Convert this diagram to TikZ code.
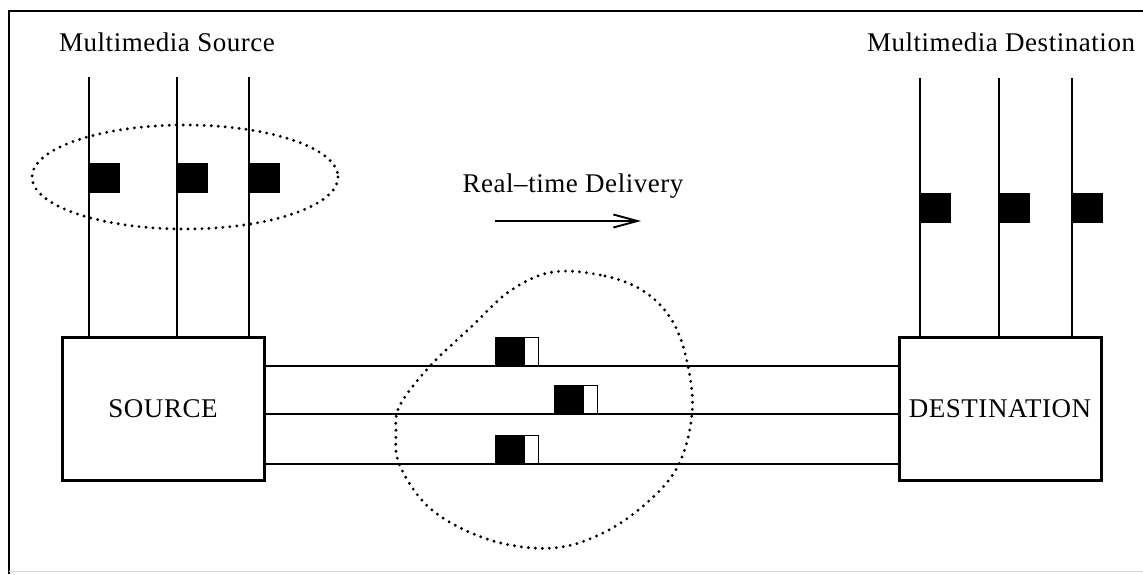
\documentclass[tikz,border=0pt]{standalone}
\usepackage{fontspec}
\setmainfont{Liberation Serif}[LetterSpace=2]
\usetikzlibrary{arrows.meta}
\begin{document}
\begin{tikzpicture}[x=1pt,y=-1pt,
  wire/.style={line width=1.9pt},
  blockbox/.style={draw,line width=3pt,minimum width=202pt,minimum height=143pt,inner sep=0pt,font=\fontsize{27}{30}\selectfont},
  lbl/.style={font=\fontsize{27}{30}\selectfont,inner sep=0pt},
  blk/.style={fill=black,draw=none,minimum width=31pt,minimum height=30pt,inner sep=0pt},
  pkt/.style={draw,line width=1.4pt,fill=white,minimum width=43pt,minimum height=28pt,inner sep=0pt,
    path picture={\fill[black] (path picture bounding box.north west) rectangle ([xshift=-14pt]path picture bounding box.south east);}},
  dots/.style={line width=3.2pt,line cap=round,dash pattern=on 0pt off 7pt}
]
\useasboundingbox (0,0) rectangle (1143,574);
\fill[white] (0,0) rectangle (1143,574);
% frame
\draw[line width=1.9pt] (9,574) -- (9,11) -- (1143,11);
\draw[line width=0.6pt,black!15] (9,571) -- (1143,571);

% boxes
\node[blockbox] (src) at (163,408.5) {SOURCE};
\node[blockbox] (dst) at (1000,409) {DESTINATION};

% titles
\node[lbl] (tsrc) at (167,42) {Multimedia Source};
\node[lbl] (tdst) at (1001,42) {Multimedia Destination};

% source streams
\coordinate (s1) at (89,77);
\coordinate (s2) at (177,77);
\coordinate (s3) at (249,77);
\foreach \c in {s1,s2,s3} \draw[wire] (\c) -- (\c |- src.north);
\node[blk,anchor=west] (sb1) at (89,178) {};
\node[blk,anchor=west] (sb2) at (177,178) {};
\node[blk,anchor=west] (sb3) at (249,178) {};
\draw[dots] (185,177) ellipse [x radius=153, y radius=52];

% destination streams
\coordinate (d1) at (920,78);
\coordinate (d2) at (999,78);
\coordinate (d3) at (1072,78);
\foreach \c in {d1,d2,d3} \draw[wire] (\c) -- (\c |- dst.north);
\node[blk,anchor=west] (db1) at (920,207.5) {};
\node[blk,anchor=west] (db2) at (999,207.5) {};
\node[blk,anchor=west] (db3) at (1072,207.5) {};

% channels
\coordinate (h1) at (0,366);
\coordinate (h2) at (0,414);
\coordinate (h3) at (0,464);
\foreach \h in {h1,h2,h3} \draw[wire] (src.east |- \h) -- (dst.west |- \h);

% packets in transit
\node[pkt,anchor=south west] (p1) at (495,366) {};
\node[pkt,anchor=south west] (p2) at (554,414) {};
\node[pkt,anchor=south west] (p3) at (495,464) {};

% network cloud
\draw[dots] plot[smooth cycle,tension=0.6] coordinates {
  (553,272) (605,276) (645,292) (673,322) (688,366) (692,414) (679,464)
  (650,500) (605,532) (553,548) (490,540) (432,510) (400,466) (396,432)
  (400,405) (430,366) (470,328) (510,291)};

% delivery arrow
\node[lbl] (rt) at (573,186) {Real–time Delivery};
\coordinate (a1) at (495,221);
\coordinate (a2) at (641,221);
\draw[wire,-{Straight Barb[length=24pt,width=13pt,line width=1.9pt]}] (a1) -- (a2);
\end{tikzpicture}
\end{document}
